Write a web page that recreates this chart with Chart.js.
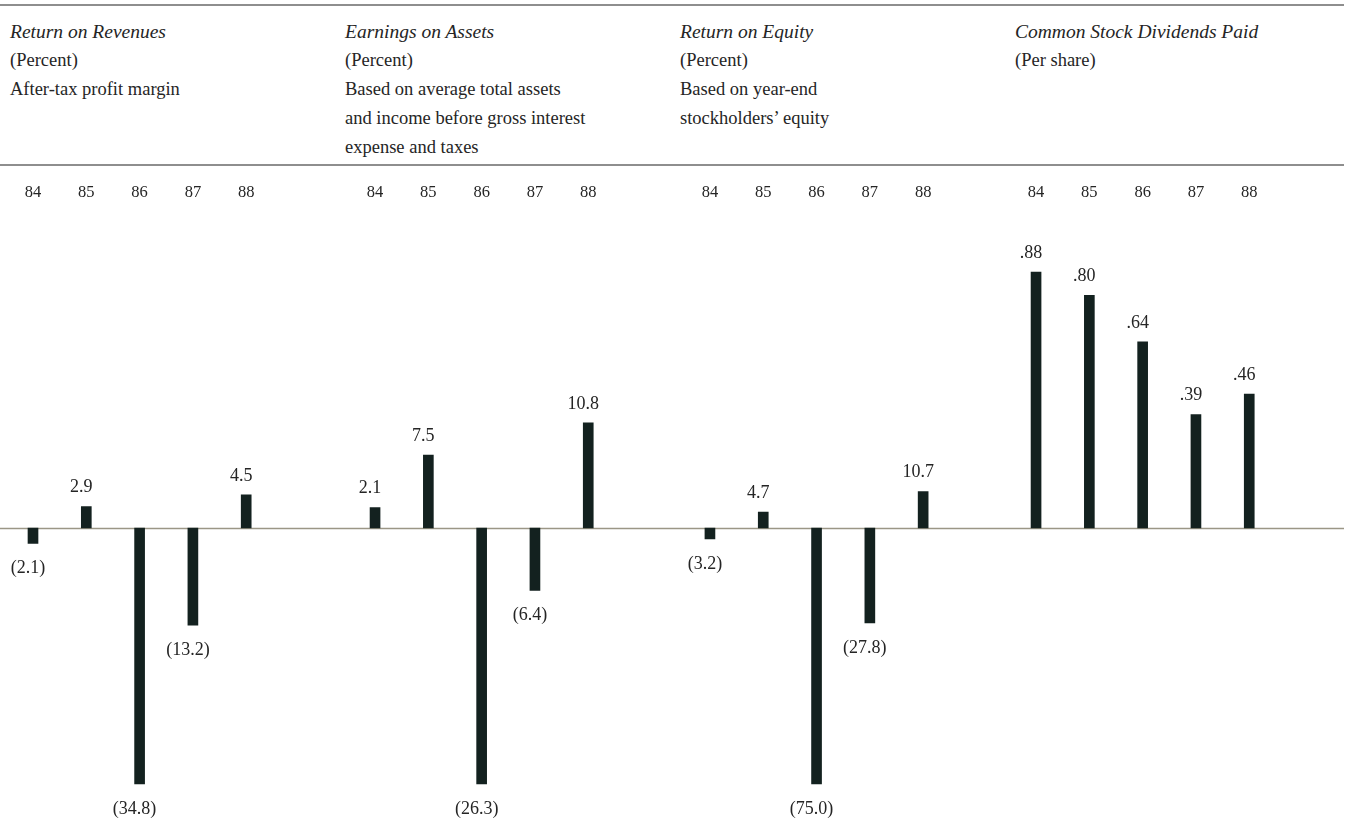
<!DOCTYPE html>
<html>
<head>
<meta charset="utf-8">
<title>Financial Highlights 1984–1988</title>
<script src="https://cdn.jsdelivr.net/npm/chart.js@4/dist/chart.umd.min.js"></script>
<style>
  html, body { margin: 0; padding: 0; background: #fff; }
  #page { position: relative; width: 1351px; height: 820px; overflow: hidden;
          font-family: "Liberation Serif", "DejaVu Serif", serif; color: #252525; }
  .rule { position: absolute; left: 0; width: 1344px; height: 2px; background: #8e8e8e; }
  .head { position: absolute; top: 17px; font-size: 18.5px; line-height: 29px; white-space: nowrap; }
  .head .t { font-style: italic; font-size: 19.5px; }
  .panel { position: absolute; top: 175px; }
</style>
</head>
<body>
<div id="page">
  <div class="rule" style="top:4px"></div>
  <div class="rule" style="top:164px"></div>
</div>
<script>
// Fiscal years shown on every panel
const years = ['84', '85', '86', '87', '88'];

// Panel values
const returnOnRevenues  = [-2.1, 2.9, -34.8, -13.2, 4.5];   // percent
const earningsOnAssets  = [2.1, 7.5, -26.3, -6.4, 10.8];    // percent
const returnOnEquity    = [-3.2, 4.7, -75.0, -27.8, 10.7];  // percent
const dividendsPerShare = [0.88, 0.80, 0.64, 0.39, 0.46];   // dollars per share

// Header texts
const titles = ['Return on Revenues', 'Earnings on Assets', 'Return on Equity', 'Common Stock Dividends Paid'];
const subtitles = [
  ['(Percent)', 'After-tax profit margin'],
  ['(Percent)', 'Based on average total assets', 'and income before gross interest', 'expense and taxes'],
  ['(Percent)', 'Based on year-end', 'stockholders\u2019 equity'],
  ['(Per share)']
];

// Layout (page pixels)
const CANVAS_TOP = 175, CANVAS_H = 645;
const AXIS_H = 40;                 // band for the year labels above the plot
const ZERO_Y = 528;                // page y of the baseline
const PLOT_TOP = CANVAS_TOP + AXIS_H;
const PLOT_BOTTOM = CANVAS_TOP + CANVAS_H;
const LONGEST_BAR = 256;           // pixel length of each panel's largest bar
const PLOT_W = 266.5;              // five category slots
const panelsLayout = [
  { left: 0,    width: 335, plotLeft: 6.35,   textLeft: 10 },
  { left: 335,  width: 335, plotLeft: 348.4,  textLeft: 345 },
  { left: 670,  width: 335, plotLeft: 683.3,  textLeft: 680 },
  { left: 1005, width: 339, plotLeft: 1009.4, textLeft: 1015 }
];
const series = [returnOnRevenues, earningsOnAssets, returnOnEquity, dividendsPerShare];
const labelStyles = [
  { decimals: 1, dropLeadingZero: false },
  { decimals: 1, dropLeadingZero: false },
  { decimals: 1, dropLeadingZero: false },
  { decimals: 2, dropLeadingZero: true }
];

const BAR_COLOR = '#13211f';
const TEXT_COLOR = '#252525';
const FONT = '"Liberation Serif", "DejaVu Serif", serif';

// Baseline running across the whole canvas width
const zeroLine = {
  id: 'zeroLine',
  beforeDatasetsDraw(chart) {
    const ctx = chart.ctx;
    const y = Math.round(chart.scales.y.getPixelForValue(0)) + 0.5;
    ctx.save();
    ctx.strokeStyle = '#9b9686';
    ctx.lineWidth = 1.5;
    ctx.beginPath();
    ctx.moveTo(0, y);
    ctx.lineTo(chart.width, y);
    ctx.stroke();
    ctx.restore();
  }
};

// Value labels: above positive bars, in parentheses below negative ones
const valueLabels = {
  id: 'valueLabels',
  afterDatasetsDraw(chart, args, opts) {
    const ctx = chart.ctx;
    const values = chart.data.datasets[0].data;
    const meta = chart.getDatasetMeta(0);
    ctx.save();
    ctx.font = '18px ' + FONT;
    ctx.fillStyle = TEXT_COLOR;
    ctx.textAlign = 'center';
    ctx.textBaseline = 'middle';
    meta.data.forEach((bar, i) => {
      const v = values[i];
      let txt = Math.abs(v).toFixed(opts.decimals);
      if (opts.dropLeadingZero) txt = txt.replace(/^0/, '');
      if (v < 0) txt = '(' + txt + ')';
      const y = v >= 0 ? bar.y - 19 : bar.y + 25;
      ctx.fillText(txt, bar.x - 5, y);
    });
    ctx.restore();
  }
};

const page = document.getElementById('page');

panelsLayout.forEach((p, idx) => {
  // header block
  const head = document.createElement('div');
  head.className = 'head';
  head.style.left = p.textLeft + 'px';
  head.innerHTML = '<div class="t">' + titles[idx] + '</div>' +
    subtitles[idx].map(s => '<div>' + s + '</div>').join('');
  page.appendChild(head);

  // chart canvas
  const canvas = document.createElement('canvas');
  canvas.className = 'panel';
  canvas.width = p.width;
  canvas.height = CANVAS_H;
  canvas.style.left = p.left + 'px';
  canvas.style.width = p.width + 'px';
  canvas.style.height = CANVAS_H + 'px';
  page.appendChild(canvas);

  const values = series[idx];
  const maxAbs = Math.max(...values.map(Math.abs));
  const unitsPerPx = maxAbs / LONGEST_BAR;
  const padL = p.plotLeft - p.left;
  const padR = p.width - padL - PLOT_W;

  new Chart(canvas, {
    type: 'bar',
    data: {
      labels: years,
      datasets: [{
        data: values,
        backgroundColor: BAR_COLOR,
        borderWidth: 0,
        barThickness: 10
      }]
    },
    options: {
      responsive: false,
      animation: false,
      events: [],
      layout: { padding: { left: padL, right: padR, top: 0, bottom: 0 } },
      plugins: {
        legend: { display: false },
        tooltip: { enabled: false },
        valueLabels: labelStyles[idx]
      },
      scales: {
        x: {
          position: 'top',
          grid: { display: false, drawTicks: false },
          border: { display: false },
          ticks: { padding: 12, color: TEXT_COLOR, font: { family: FONT, size: 16.5 } },
          afterFit(scale) { scale.height = AXIS_H; }
        },
        y: {
          display: false,
          max: (ZERO_Y - PLOT_TOP) * unitsPerPx,
          min: -(PLOT_BOTTOM - ZERO_Y) * unitsPerPx
        }
      }
    },
    plugins: [zeroLine, valueLabels]
  });
});
</script>
</body>
</html>
